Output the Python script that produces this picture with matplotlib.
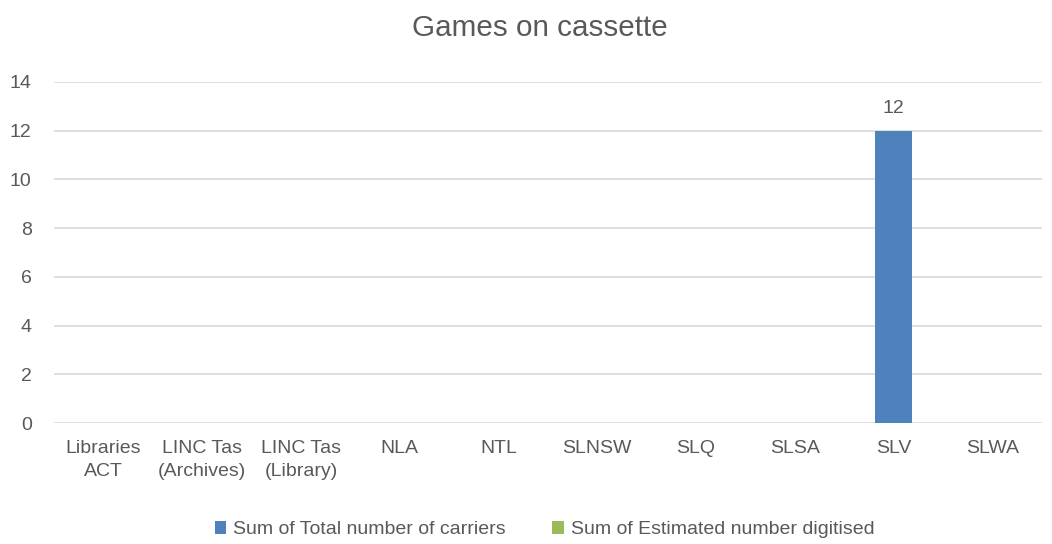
import numpy as np
import matplotlib
matplotlib.use('Agg')
import matplotlib.pyplot as plt

categories = ['Libraries\nACT', 'LINC Tas\n(Archives)', 'LINC Tas\n(Library)', 'NLA', 'NTL',
              'SLNSW', 'SLQ', 'SLSA', 'SLV', 'SLWA']
total_carriers = [0, 0, 0, 0, 0, 0, 0, 0, 12, 0]
est_digitised = [0, 0, 0, 0, 0, 0, 0, 0, 0, 0]
series_names = ['Sum of Total number of carriers', 'Sum of Estimated number digitised']
yticks = [0, 2, 4, 6, 8, 10, 12, 14]

plt.rcParams['font.family'] = ['Liberation Sans', 'DejaVu Sans']
txt = '#595959'
blue = '#4F81BD'
green = '#9BBB59'

fig = plt.figure(figsize=(10.52, 5.44), dpi=100)
ax = fig.add_axes([0.0513, 0.2224, 0.939, 0.6269])

x = np.arange(len(categories))
w = 0.375
b1 = ax.bar(x, total_carriers, width=w, color=blue, label=series_names[0], zorder=3)
b2 = ax.bar(x, est_digitised, width=w, color=green, label=series_names[1], zorder=3)

for xi, v in zip(x, total_carriers):
    if v > 0:
        ax.text(xi, v + 0.55, str(v), ha='center', va='bottom', fontsize=14, color=txt)

ax.set_ylim(0, 14)
ax.set_xlim(-0.5, len(categories) - 0.5)
ax.set_yticks(yticks)
ax.set_xticks(x)
ax.set_xticklabels(categories)
for lab in ax.get_xticklabels():
    lab.set_linespacing(1.45)
ax.yaxis.grid(True, color='#D9D9D9', linewidth=1.2, zorder=0)
for s in ax.spines.values():
    s.set_visible(False)
ax.tick_params(axis='both', length=0, labelsize=14, colors=txt)
ax.tick_params(axis='x', pad=12)
ax.tick_params(axis='y', pad=16)

fig.text(540 / 1052, 1 - 28 / 544, 'Games on cassette', fontsize=21.3, color=txt,
         ha='center', va='center')

leg = fig.legend(handles=[b1, b2], loc='center', bbox_to_anchor=(0.5176, 0.026), ncol=2,
                 frameon=False, fontsize=14, handlelength=0.6, handleheight=0.6,
                 handletextpad=0.35, columnspacing=2.4)
for t in leg.get_texts():
    t.set_color(txt)

fig.savefig('out.png', dpi=100)
